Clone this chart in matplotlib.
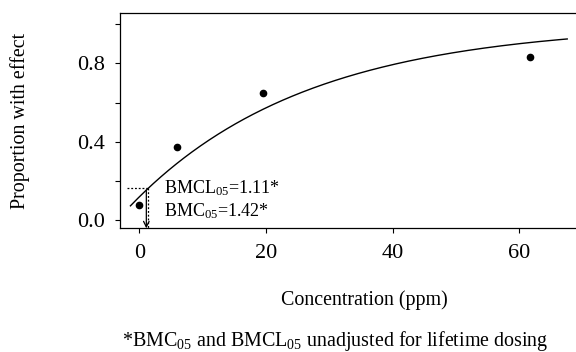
import numpy as np
import matplotlib
matplotlib.use("Agg")
import matplotlib.pyplot as plt

plt.rcParams['font.family'] = ['Liberation Serif', 'DejaVu Serif']
plt.rcParams['mathtext.fontset'] = 'custom'
plt.rcParams['mathtext.rm'] = 'Liberation Serif'

# Observed dose groups
concentration = [0.0, 5.9, 19.5, 61.7]
proportion = [0.08, 0.375, 0.65, 0.83]

# Fitted quantal-linear model: p = g + (1 - g) * (1 - exp(-b * x))
background = 0.12
bmc = 1.42
bmcl = 1.11
bmr = 0.05
slope = -np.log(1 - bmr) / bmc
curve_start, curve_end = -1.4, 67.6

x_ticks = [0, 20, 40, 60]
y_ticks = [0.0, 0.2, 0.4, 0.6, 0.8, 1.0]
y_labels = ['0.0', '', '0.4', '', '0.8', '']


def model(x):
    return background + (1 - background) * (1 - np.exp(-slope * x))


W, H = 576, 352
fig = plt.figure(figsize=(W / 100, H / 100), dpi=100)
ax_l, ax_r, ax_b, ax_t = 120, 609, 228.3, 13.3
ax = fig.add_axes([ax_l / W, 1 - ax_b / H, (ax_r - ax_l) / W, (ax_b - ax_t) / H])

x_min = -3.05
x_max = x_min + (ax_r - ax_l) / 6.33
y_min, y_max = -0.04, 1.054
ax.set_xlim(x_min, x_max)
ax.set_ylim(y_min, y_max)

xs = np.linspace(curve_start, curve_end, 400)
ax.plot(xs, model(xs), color='black', lw=1.0)
ax.plot(concentration, proportion, 'o', color='black', ms=4.5)

# Benchmark markers
p_bmc = model(bmc)
ax.plot([-2.0, bmc], [p_bmc, p_bmc], color='black', lw=0.9, ls=(0, (1.5, 1.5)))
ax.plot([bmc, bmc], [p_bmc, y_min], color='black', lw=0.9, ls=(0, (1.5, 1.5)))
ax.annotate('', xy=(bmcl, y_min), xytext=(bmcl, model(bmcl)),
            arrowprops=dict(arrowstyle='->', color='black', lw=0.9,
                            shrinkA=0, shrinkB=0, mutation_scale=10))

ax.text(3.9, 0.138, r'BMCL$\mathregular{_{05}}$=1.11*', fontsize=13,
        va='baseline', ha='left')
ax.text(3.9, 0.019, r'BMC$\mathregular{_{05}}$=1.42*', fontsize=13,
        va='baseline', ha='left')

ax.set_xticks(x_ticks)
ax.set_yticks(y_ticks)
ax.set_yticklabels(y_labels)
ax.tick_params(axis='both', direction='out', length=3.5, width=0.8,
               labelsize=16, color='black')
ax.tick_params(axis='x', pad=8)
ax.tick_params(axis='y', pad=7)

for side in ['left', 'bottom', 'top']:
    ax.spines[side].set_linewidth(0.9)
ax.spines['right'].set_visible(False)

fig.text(20.5 / W, 1 - 121 / H, 'Proportion with effect', rotation=90,
         ha='center', va='center', fontsize=14.4)
fig.text(364.5 / W, 1 - 300 / H, 'Concentration (ppm)', ha='center',
         va='center', fontsize=14.4)
fig.text(335 / W, 1 - 341 / H,
         r'*BMC$\mathregular{_{05}}$ and BMCL$\mathregular{_{05}}$ unadjusted for lifetime dosing',
         ha='center', va='center', fontsize=14.4)

fig.savefig('out.png', dpi=100)
